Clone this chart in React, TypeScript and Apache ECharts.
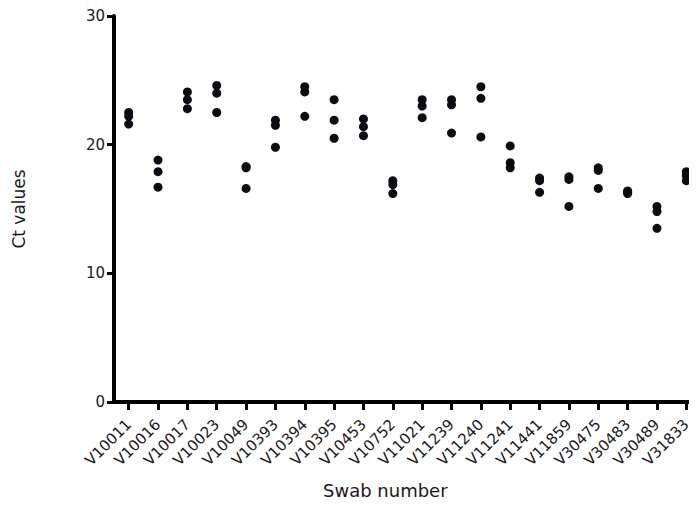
import React, { useEffect, useRef } from "react";
import * as echarts from "echarts";

// Swab identifiers along the x axis
const swabs = [
  "V10011", "V10016", "V10017", "V10023", "V10049", "V10393", "V10394",
  "V10395", "V10453", "V10752", "V11021", "V11239", "V11240", "V11241",
  "V11441", "V11859", "V30475", "V30483", "V30489", "V31833",
];

// Replicate Ct values per swab (same order as swabs)
const ctValues: number[][] = [
  [22.5, 22.2, 21.6],
  [18.8, 17.9, 16.7],
  [24.1, 23.5, 22.8],
  [24.6, 24.0, 22.5],
  [18.3, 18.2, 16.6],
  [21.9, 21.5, 19.8],
  [24.5, 24.1, 22.2],
  [23.5, 21.9, 20.5],
  [22.0, 21.4, 20.7],
  [17.2, 16.9, 16.2],
  [23.5, 23.0, 22.1],
  [23.5, 23.1, 20.9],
  [24.5, 23.6, 20.6],
  [19.9, 18.6, 18.2],
  [17.4, 17.2, 16.3],
  [17.5, 17.3, 15.2],
  [18.2, 18.0, 16.6],
  [16.4, 16.3, 16.2],
  [15.2, 14.8, 13.5],
  [17.9, 17.6, 17.2],
];

// Y axis range and tick spacing
const yMin = 0;
const yMax = 30;
const yStep = 10;

const FONT = "DejaVu Sans";
const INK = "#1c1822";

export default function App() {
  const ref = useRef<HTMLDivElement>(null);

  useEffect(() => {
    if (!ref.current) return;
    const chart = echarts.init(ref.current, undefined, { renderer: "svg" });

    const points: [number, number][] = [];
    ctValues.forEach((reps, i) => reps.forEach((v) => points.push([i, v])));

    chart.setOption({
      animation: false,
      backgroundColor: "#ffffff",
      grid: {
        left: 106,
        right: -4,
        top: 8,
        bottom: 104,
        containLabel: false,
        outerBoundsMode: "none",
      },
      xAxis: {
        type: "category",
        data: swabs,
        boundaryGap: true,
        axisLine: { show: true, lineStyle: { color: "#000", width: 4 } },
        axisTick: {
          show: true,
          alignWithLabel: true,
          length: 8,
          lineStyle: { color: "#000", width: 3 },
        },
        axisLabel: {
          rotate: 45,
          interval: 0,
          margin: 20,
          fontFamily: FONT,
          fontSize: 15,
          color: INK,
        },
        splitLine: { show: false },
      },
      yAxis: {
        type: "value",
        min: yMin,
        max: yMax,
        interval: yStep,
        name: "Ct values",
        nameLocation: "middle",
        nameGap: 87,
        nameRotate: 90,
        nameTextStyle: { fontFamily: FONT, fontSize: 17, color: INK },
        axisLine: { show: true, lineStyle: { color: "#000", width: 4 } },
        axisTick: { show: true, length: 7, lineStyle: { color: "#000", width: 3 } },
        axisLabel: { margin: 9, fontFamily: FONT, fontSize: 15, color: INK },
        splitLine: { show: false },
      },
      graphic: [
        {
          type: "text",
          left: 315,
          top: 473,
          style: {
            text: "Swab number",
            fontFamily: FONT,
            fontSize: 18,
            fill: INK,
          },
        },
      ],
      series: [
        {
          type: "scatter",
          data: points,
          symbol: "circle",
          symbolSize: 9,
          itemStyle: { color: "#0d0a12", opacity: 1 },
        },
      ],
    });

    return () => chart.dispose();
  }, []);

  return <div ref={ref} style={{ width: 689, height: 498 }} />;
}
